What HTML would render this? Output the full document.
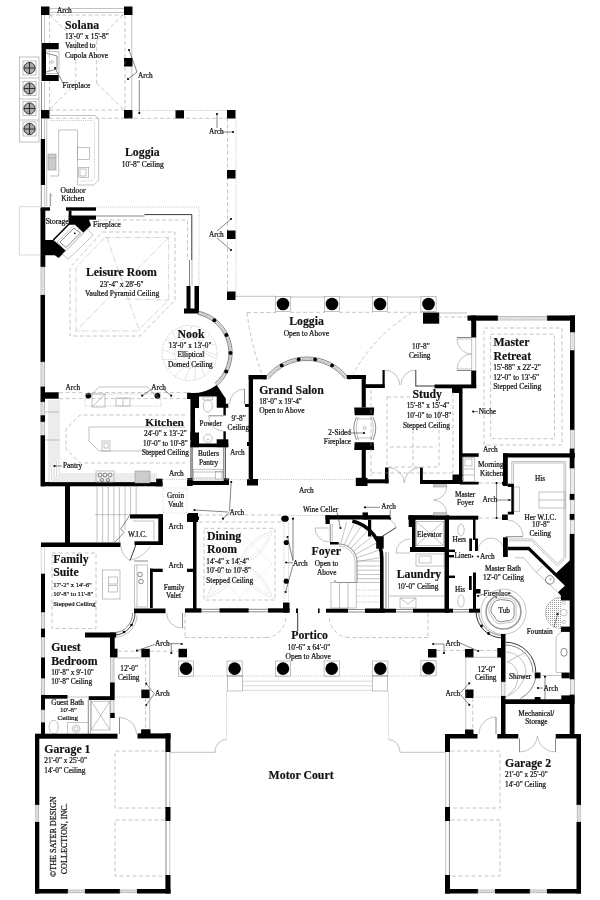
<!DOCTYPE html>
<html lang="en"><head><meta charset="utf-8"><title>Floor Plan</title>
<style>
html,body{margin:0;padding:0;background:#fff;}
body{width:600px;height:900px;overflow:hidden;}
svg{display:block;will-change:transform;opacity:.999;}
text{font-family:"Liberation Serif","DejaVu Serif",serif;fill:#111;}
.b{font-weight:bold;font-size:11.8px;stroke:#111;stroke-width:.15;}
.s{font-size:7.3px;fill:#111;stroke:#111;stroke-width:.22;}
.s75{font-size:7.5px;}
.s66{font-size:6.6px;}
.s70{font-size:7px;}
.c{font-size:8.15px;}
.a{font-size:7.3px;fill:#111;stroke:#111;stroke-width:.22;}
.w{fill:#000;stroke:none;}
.t{fill:none;stroke:#555;stroke-width:.7;}
.k{fill:none;stroke:#222;stroke-width:.9;}
.g{fill:none;stroke:#999;stroke-width:.6;}
.gf{fill:#ececec;stroke:#999;stroke-width:.6;}
.wf{fill:#fff;stroke:#999;stroke-width:.6;}
.d{fill:none;stroke:#999;stroke-width:.55;stroke-dasharray:4 2.5;}
.o{fill:none;stroke:#aaa;stroke-width:.7;stroke-dasharray:1 1.2;}
.h{fill:#ccc;stroke:#888;stroke-width:.5;}
.kk{fill:none;stroke:#000;stroke-width:1.6;}
.dd{fill:none;stroke:#aaa;stroke-width:.5;stroke-dasharray:6 1.5 1 1.5;}
.gl{fill:none;stroke:#aaa;stroke-width:.45;}
.oo{fill:none;stroke:#c4c4c4;stroke-width:.6;stroke-dasharray:1 1.4;}
.cw{fill:none;stroke:#000;stroke-width:3.6;}
.ft{fill:url(#dots);stroke:none;}
.rg{fill:none;stroke:#999;stroke-width:1.5;}
.hh{fill:#a8a8a8;stroke:none;}
.l{fill:none;stroke:#333;stroke-width:.6;}
</style></head><body>
<svg width="600" height="900" viewBox="0 0 600 900">
<defs><pattern id="dots" width="2" height="2" patternUnits="userSpaceOnUse"><rect width="2" height="2" fill="#fff"/><rect width="1" height="1" fill="#999"/></pattern></defs>
<rect x="0" y="0" width="600" height="900" fill="#fff"/>
<rect class="w" x="41" y="6.5" width="8.5" height="8.5"/>
<rect class="w" x="124" y="6.5" width="8.5" height="8.5"/>
<rect class="w" x="124" y="58" width="8.5" height="8.5"/>
<rect class="w" x="41" y="110" width="8.5" height="8.5"/>
<rect class="w" x="124" y="110" width="8.5" height="8.5"/>
<rect class="w" x="175.5" y="110" width="8.5" height="8.5"/>
<path class="g" d="M49.5 8.5 L124 8.5"/>
<path class="g" d="M49.5 12.5 L124 12.5"/>
<path class="t" d="M41.5 15 L41.5 43"/>
<path class="g" d="M44.5 15 L44.5 43"/>
<path class="t" d="M41.5 82 L41.5 110"/>
<path class="g" d="M44.5 82 L44.5 110"/>
<path class="d" d="M125 15 L125 110"/>
<path class="g" d="M131.8 15 L131.8 58"/>
<path class="g" d="M131.8 66.5 L131.8 110"/>
<path class="d" d="M49.5 15 L123 15"/>
<path class="d" d="M49.5 15 L49.5 110"/>
<path class="d" d="M49.5 110 L124 110"/>
<path class="d" d="M50 15 L75.8 40.8"/>
<path class="d" d="M123 15 L96.7 40.8"/>
<path class="d" d="M50 109 L75.8 83.3"/>
<path class="d" d="M123 109 L96.7 83.3"/>
<path class="d" d="M75.8 40.8 L75.8 83.3"/>
<path class="d" d="M96.7 40.8 L96.7 83.3"/>
<path class="w" d="M41.5 43 L58.7 43 L58.7 49.3 L46 49.3 L46 75 L58.7 75 L58.7 81 L41.5 81 Z"/>
<path class="g" d="M45.5 51.5 L59 51.5 L59 73.5 L45.5 73.5"/>
<path class="t" d="M46 53 L57 56 L57 69 L46 72"/>
<circle class="g" cx="52" cy="62" r="1.4"/>
<path class="l" d="M55 68 L63 83"/>
<circle class="w" cx="55" cy="68" r="1"/>
<text class="s s75" x="62.5" y="88.3">Fireplace</text>
<rect class="g" x="19.5" y="57" width="19.5" height="85"/>
<path class="g" d="M19.5 78 L39 78"/>
<path class="g" d="M19.5 99 L39 99"/>
<path class="g" d="M19.5 120 L39 120"/>
<rect class="g" x="23" y="61" width="13" height="14"/>
<circle class="hh" cx="29.5" cy="68" r="5.6"/>
<circle class="k" cx="29.5" cy="68" r="5.6"/>
<path class="k" d="M24 68 L35 68"/>
<path class="k" d="M29.5 62.5 L29.5 73.5"/>
<rect class="g" x="23" y="81.5" width="13" height="14"/>
<circle class="hh" cx="29.5" cy="88.5" r="5.6"/>
<circle class="k" cx="29.5" cy="88.5" r="5.6"/>
<path class="k" d="M24 88.5 L35 88.5"/>
<path class="k" d="M29.5 83 L29.5 94"/>
<rect class="g" x="23" y="101.5" width="13" height="14"/>
<circle class="hh" cx="29.5" cy="108.5" r="5.6"/>
<circle class="k" cx="29.5" cy="108.5" r="5.6"/>
<path class="k" d="M24 108.5 L35 108.5"/>
<path class="k" d="M29.5 103 L29.5 114"/>
<rect class="g" x="23" y="122" width="13" height="14"/>
<circle class="hh" cx="29.5" cy="129" r="5.6"/>
<circle class="k" cx="29.5" cy="129" r="5.6"/>
<path class="k" d="M24 129 L35 129"/>
<path class="k" d="M29.5 123.5 L29.5 134.5"/>
<text class="a" x="57" y="13">Arch</text>
<text class="b" x="65" y="29">Solana</text>
<text class="s s75" x="65" y="38.7">13'-0" x 15'-8"</text>
<text class="s s75" x="65" y="48.3">Vaulted to</text>
<text class="s s75" x="65" y="58.3">Cupola Above</text>
<circle class="w" cx="129" cy="50" r="1.1"/>
<circle class="w" cx="128" cy="79" r="1.1"/>
<path class="l" d="M129 50 L137 72 L128 79"/>
<text class="a" x="138" y="78">Arch</text>
<path class="l" d="M139.3 80 L139.3 113"/>
<circle class="w" cx="139.3" cy="113" r="1.1"/>
<path class="o" d="M132 110.5 L236 110.5"/>
<path class="d" d="M49.5 118.3 L227 118.3"/>
<rect class="w" x="227" y="110" width="8.5" height="8.5"/>
<path class="d" d="M227.5 118 L227.5 300"/>
<path class="o" d="M236 118 L236 297"/>
<rect class="w" x="227" y="170" width="8.5" height="8.5"/>
<rect class="w" x="227" y="230.5" width="8.5" height="8.5"/>
<rect class="w" x="227" y="291.5" width="8.5" height="8.5"/>
<circle class="w" cx="217" cy="114" r="1.1"/>
<path class="l" d="M217 114 L217 128"/>
<text class="a" x="209" y="134">Arch</text>
<path class="l" d="M223 132 L232 132"/>
<circle class="w" cx="233" cy="132" r="1.1"/>
<text class="b" x="125" y="156.3">Loggia</text>
<text class="s s75" x="121.7" y="167">10'-8" Ceiling</text>
<text class="a" x="209" y="237">Arch</text>
<circle class="w" cx="231" cy="219" r="1.1"/>
<circle class="w" cx="231" cy="250" r="1.1"/>
<path class="l" d="M231 219 L217 231"/>
<path class="l" d="M217 238 L231 250"/>
<path class="t" d="M41.5 118.5 L41.5 139"/>
<path class="g" d="M44.5 118.5 L44.5 139"/>
<rect class="w" x="40.8" y="139" width="4.2" height="46"/>
<path class="t" d="M41.3 185 L41.3 207"/>
<path class="g" d="M44.7 185 L44.7 207"/>
<path class="g" d="M46.7 118.5 L46.7 206"/>
<path class="g" d="M48.7 115.5 L95 115.5 L98.7 119 L98.7 180 L93.7 185 L77.5 185 L77.5 130"/>
<path class="g" d="M58.7 130 L77.5 130"/>
<path class="g" d="M58.7 130 L58.7 176"/>
<path class="g" d="M50 176 L58.7 176"/>
<path class="o" d="M50 120.5 L92 120.5 L94.5 123 L94.5 178 L92 181 L80 181"/>
<rect class="g" x="77.5" y="147.5" width="12" height="12"/>
<rect class="g" x="78.7" y="167.5" width="10" height="10"/>
<rect class="g" x="80" y="169" width="6" height="7"/>
<rect class="h" x="48" y="154" width="8" height="16"/>
<path class="g" d="M48 158 L56 158"/>
<text class="s s75" x="60.5" y="193">Outdoor</text>
<text class="s" x="61.2" y="201.2">Kitchen</text>
<path class="t" d="M50.3 206.5 L50.3 193.5"/>
<path class="g" d="M50.3 193.5 L53 196"/>
<rect class="w" x="40.8" y="207.3" width="9.2" height="3.4"/>
<rect class="w" x="66" y="207.3" width="30" height="3.4"/>
<rect class="w" x="68.7" y="215.5" width="27.3" height="4.2"/>
<rect class="w" x="68.7" y="210.7" width="2.8" height="9.3"/>
<rect class="w" x="40.5" y="208" width="4.8" height="59"/>
<text class="s s75" x="45.7" y="223.7">Storage</text>
<text class="s s75" x="93" y="226.7">Fireplace</text>
<path class="w" d="M68.7 219 L88.7 219 L91 225.3 L83.3 232.7 L74.7 224.7 L68.7 224.7 Z"/>
<path class="kk" d="M71.5 221.5 L53.3 240"/>
<path class="w" d="M45 240 L53.3 240 L66 250.7 L58.7 258 L54.7 255.3 L45 255.3 Z"/>
<path class="wf" d="M87.5 229 L93.3 235 L68 259.3 L62.5 254 Z"/>
<path class="wf" d="M74.7 224.7 L83.3 232.7 L66 250.7 L57 242 Z"/>
<path class="t" d="M74 228 L80.5 233 L66 247.5 L60 242 Z"/>
<circle class="w" cx="74.7" cy="233.3" r="0.9"/>
<path class="gl" d="M41 206.7 L19.3 206.7 L19.3 255 L41 255"/>
<path class="o" d="M97 207 L199 207 L199 286"/>
<path class="t" d="M96 216 L144.5 216"/>
<path class="k" d="M144.5 214.6 L191.8 214.6 L191.8 260"/>
<path class="t" d="M189.5 260 L189.5 286"/>
<path class="g" d="M192 260 L192 286"/>
<path class="d" d="M97 220 L187.5 220 L187.5 260"/>
<path class="d" d="M102.5 232 L175 232 L175 300 L140 336 L70 336 L70 267.5 L102.5 232"/>
<path class="dd" d="M105 237.5 L168.7 237.5 L168.7 300 L137.5 331 L76 331 L76 267.5 L105 237.5"/>
<path class="dd" d="M107 237.5 L139.5 331"/>
<path class="dd" d="M168.7 237.5 L76 331"/>
<path class="dd" d="M125 299 L169 300"/>
<text class="b" x="86" y="276.4">Leisure Room</text>
<text class="s s75" x="99.8" y="287">23'-4" x 28'-6"</text>
<text class="s s75" x="85" y="296.3">Vaulted Pyramid Ceiling</text>
<rect class="gf" x="41" y="267" width="3.7" height="28"/>
<path class="o" d="M42.8 267 L42.8 295"/>
<rect class="w" x="186.5" y="286" width="4" height="27"/>
<rect class="w" x="194.5" y="286" width="4.5" height="27"/>
<rect class="w" x="184" y="308.5" width="15" height="5"/>
<rect class="w" x="40.5" y="295" width="4.5" height="67"/>
<rect class="gf" x="41" y="362" width="3.7" height="24.7"/>
<path class="o" d="M42.8 362 L42.8 386.7"/>
<rect class="w" x="40.5" y="386.7" width="4.5" height="15.3"/>
<rect class="w" x="41" y="392.3" width="17.7" height="6.4"/>
<rect class="gf" x="41" y="402" width="3.7" height="13.3"/>
<rect class="w" x="40.5" y="415.3" width="4.5" height="6.7"/>
<rect class="gf" x="41" y="422" width="3.7" height="13.3"/>
<rect class="w" x="40.5" y="435.3" width="4.5" height="51"/>
<path class="o" d="M42.8 402 L42.8 415.3"/>
<path class="o" d="M42.8 422 L42.8 435.3"/>
<rect class="w" x="41" y="482" width="121.5" height="4.3"/>
<rect class="w" x="156" y="478.7" width="6.5" height="7.6"/>
<path class="gl" d="M49 400 L49 474"/>
<path class="gl" d="M51 400 L51 470.4"/>
<path class="gl" d="M53 400 L53 466.8"/>
<path class="gl" d="M55 400 L55 463.2"/>
<path class="gl" d="M57 400 L57 459.6"/>
<path class="gl" d="M59 400 L59 456"/>
<path class="g" d="M45 412 L59 412"/>
<path class="g" d="M45 440 L59 440"/>
<path class="gl" d="M59 456 L59 474 L157 474"/>
<path class="gl" d="M56.5 460.5 L56.5 476 L157 476"/>
<path class="gl" d="M54 465 L54 478 L157 478"/>
<path class="gl" d="M51.5 469.5 L51.5 480 L157 480"/>
<path class="gl" d="M49 474 L49 482 L157 482"/>
<circle class="w" cx="54.6" cy="466" r="1.1"/>
<path class="l" d="M54.6 466 L62 466"/>
<text class="s" x="63" y="468">Pantry</text>
<path class="d" d="M59 398.6 L187 398.6"/>
<path class="d" d="M59 392.6 L85 392.6"/>
<path class="d" d="M92 392.6 L187 392.6"/>
<circle class="w" cx="88.4" cy="395.6" r="2.9"/>
<circle class="w" cx="157.4" cy="395.7" r="2.9"/>
<text class="a" x="65.6" y="390.3">Arch</text>
<text class="a" x="151.2" y="389.7">Arch</text>
<circle class="w" cx="142.2" cy="395.7" r="1.1"/>
<circle class="w" cx="171.2" cy="395.7" r="1.1"/>
<path class="l" d="M142.2 395.7 L152 389"/>
<path class="l" d="M163 389 L171.2 395.7"/>
<path class="g" d="M85 394 L92 394 L99 387 L148 387 L154 394 L160 399"/>
<rect class="o" x="85" y="394" width="76" height="12"/>
<rect class="g" x="92" y="394" width="13" height="13"/>
<path class="g" d="M92 407 L105 394"/>
<rect class="g" x="116" y="398" width="14" height="8"/>
<path class="g" d="M123 398 L123 406"/>
<path class="d" d="M185 415 L80 415 L66 429 L66 449 L80 463 L185 463"/>
<path class="g" d="M185 427 L89 427 L89 441 L99 451 L185 451"/>
<rect class="g" x="102" y="441" width="8" height="10"/>
<rect class="g" x="104" y="443" width="4" height="5"/>
<rect class="g" x="96" y="471" width="18" height="11"/>
<circle class="t" cx="100" cy="475" r="2"/>
<circle class="t" cx="105" cy="475" r="2"/>
<circle class="t" cx="110" cy="475" r="2"/>
<circle class="t" cx="102" cy="480" r="1.6"/>
<circle class="t" cx="108" cy="480" r="1.6"/>
<rect class="h" x="135" y="471" width="15" height="12"/>
<text class="b" x="145.3" y="426" style="font-size:11.4px">Kitchen</text>
<text class="s" x="144" y="436">24'-0" x 13'-2"</text>
<text class="s" x="143" y="445.5">10'-0" to 10'-8"</text>
<text class="s" x="142" y="455">Stepped Ceiling</text>
<text class="a" x="169" y="476">Arch</text>
<path class="t" d="M198.2 311.1 A42.8 42.8 0 0 1 216.8 385.8"/>
<path class="t" d="M197.5 314.3 A39.599999999999994 39.599999999999994 0 0 1 214.8 383.3"/>
<path class="g" d="M198.0 312.2 A41.699999999999996 41.699999999999996 0 0 1 216.1 384.9"/>
<path class="g" d="M197.7 313.3 A40.599999999999994 40.599999999999994 0 0 1 215.4 384.1"/>
<circle class="w" cx="214.381" cy="320.314" r="2"/>
<circle class="w" cx="226.33" cy="334.939" r="2"/>
<circle class="w" cx="230.5" cy="353" r="2"/>
<circle class="w" cx="226.171" cy="371.383" r="2"/>
<circle class="o" cx="189.5" cy="353" r="27.5"/>
<circle class="o" cx="189.5" cy="353" r="15"/>
<path class="o" d="M204.3 353 L216.199 358.718"/>
<path class="o" d="M203.208 358.619 L212.099 368.378"/>
<path class="o" d="M200.09 363.42 L204.678 375.799"/>
<path class="o" d="M195.401 366.703 L195.018 379.899"/>
<path class="o" d="M189.823 367.991 L184.525 380.082"/>
<path class="o" d="M184.17 367.095 L174.727 376.321"/>
<path class="o" d="M179.263 364.147 L167.052 369.164"/>
<path class="o" d="M175.818 359.576 L162.617 359.653"/>
<path class="o" d="M174.337 354.046 L162.068 349.173"/>
<path class="o" d="M175.034 348.365 L165.484 339.25"/>
<path class="o" d="M177.809 343.358 L172.369 331.33"/>
<path class="o" d="M182.258 339.756 L181.72 326.565"/>
<path class="o" d="M187.732 338.082 L192.175 325.651"/>
<path class="o" d="M193.435 338.581 L202.21 328.719"/>
<path class="o" d="M198.535 341.18 L210.366 335.323"/>
<path class="o" d="M202.29 345.5 L215.454 344.502"/>
<path class="o" d="M204.154 350.912 L216.733 354.918"/>
<text class="b" x="177.6" y="337.6">Nook</text>
<text class="s" x="168.8" y="348">13'-0" x 13'-0"</text>
<text class="s" x="177.6" y="357.2">Elliptical</text>
<text class="s" x="167.9" y="367">Domed Ceiling</text>
<rect class="w" x="187.3" y="392.8" width="3.7" height="6.2"/>
<path class="w" d="M187.3 392.8 A41.5 41.5 0 0 0 216.7 384.9 L224 395.9 L225.8 398.5 L225.8 403.8 L228.3 403.8 L228.3 407.8 L216.7 407.8 L216.7 396.5 L199 396.5 L199 408 L190.4 408 L190.4 399 L187.3 399 Z"/>
<rect class="w" x="190.4" y="408" width="4.6" height="32"/>
<rect class="w" x="190.4" y="432.5" width="8.6" height="14.7"/>
<rect class="w" x="190.4" y="443.5" width="37.9" height="3.7"/>
<rect class="w" x="216.7" y="439.3" width="11.6" height="7.9"/>
<rect class="w" x="223.4" y="407" width="2.4" height="8.4"/>
<rect class="w" x="223.4" y="431.3" width="2.4" height="8.7"/>
<path class="t" d="M208.7 415.8 L223.4 415.8"/>
<path class="g" d="M208.7 415.8 A14.7 15 0 0 0 223.4 431"/>
<ellipse class="g" cx="207.8" cy="406" rx="4.6" ry="6.2"/>
<rect class="g" x="203" y="397" width="9.6" height="3"/>
<circle class="wf" cx="208" cy="438.5" r="4.3"/>
<circle class="g" cx="208" cy="439.5" r="0.8"/>
<text class="s" x="199.6" y="426.3">Powder</text>
<text class="s" x="231.6" y="421">9'-8"</text>
<text class="s" x="227.6" y="429.6">Ceiling</text>
<text class="s" x="198" y="456.3">Butlers</text>
<text class="s" x="199" y="464.6">Pantry</text>
<text class="a" x="230" y="455">Arch</text>
<path class="k" d="M191 447 L191 481"/>
<path class="t" d="M192.6 447 L192.6 481"/>
<path class="t" d="M223.6 447 L223.6 481"/>
<path class="k" d="M225.3 447 L225.3 481"/>
<rect class="g" x="193.4" y="469.2" width="29.6" height="11.8"/>
<path class="g" d="M193.4 472 L223 472"/>
<path class="g" d="M193.4 478 L215 478"/>
<rect class="g" x="215.5" y="471.5" width="6.5" height="7.5"/>
<rect class="w" x="187.3" y="481" width="41.6" height="4"/>
<rect class="w" x="187.3" y="478.4" width="5.1" height="7.6"/>
<rect class="w" x="224" y="478.4" width="4.9" height="6.6"/>
<rect class="w" x="248.7" y="375" width="4.3" height="107"/>
<rect class="w" x="248.7" y="375" width="17.8" height="4.3"/>
<rect class="w" x="247" y="479" width="11" height="6.5"/>
<rect class="w" x="245" y="404" width="5" height="3"/>
<rect class="w" x="247" y="442" width="3" height="4"/>
<path class="t" d="M244.5 389 L244.5 404"/>
<path class="g" d="M244.5 389 A15 15 0 0 0 229.5 404"/>
<path class="t" d="M266.1 376.7 A52.1 52.1 0 0 1 347.7 376.7"/>
<path class="t" d="M268.8 378.8 A48.7 48.7 0 0 1 345.0 378.8"/>
<path class="g" d="M267.1 377.4 A50.9 50.9 0 0 1 346.7 377.4"/>
<path class="g" d="M267.9 378.1 A49.800000000000004 49.800000000000004 0 0 1 345.9 378.1"/>
<circle class="w" cx="281.7" cy="365.452" r="1.9"/>
<circle class="w" cx="298.668" cy="359.377" r="1.9"/>
<circle class="w" cx="315.132" cy="359.377" r="1.9"/>
<circle class="w" cx="332.1" cy="365.452" r="1.9"/>
<path class="w" d="M266.5 375 L263 379.3 L266.5 379.3 Z"/>
<path class="w" d="M347.5 375 L351 379.3 L347.5 379.3 Z"/>
<text class="b" x="259.2" y="393.8">Grand Salon</text>
<text class="s" x="259.2" y="404.3">18'-0" x 19'-4"</text>
<text class="s s75" x="259.2" y="413.2">Open to Above</text>
<text class="s" x="351" y="434.5" text-anchor="end">2-Sided</text>
<text class="s" x="351" y="443.5" text-anchor="end">Fireplace</text>
<rect class="w" x="346.7" y="375" width="19.1" height="4"/>
<rect class="w" x="361.7" y="375" width="4.1" height="32.5"/>
<path class="w" d="M354.2 407.5 L374.2 407.5 L373.7 415.2 L354.7 415.2 Z"/>
<path class="w" d="M354.7 442.3 L373.7 442.3 L374.2 450 L354.2 450 Z"/>
<rect class="w" x="361.7" y="450" width="4.1" height="34"/>
<rect class="w" x="355.8" y="477.8" width="11.7" height="8.2"/>
<path class="t" d="M356.5 417 Q351 428 356.5 440"/>
<path class="t" d="M373 417 Q378.5 428 373 440"/>
<path class="g" d="M358.5 417 Q354 428 358.5 440"/>
<path class="g" d="M371 417 Q375.5 428 371 440"/>
<path class="g" d="M357 419 L372 419"/>
<path class="g" d="M357 438 L372 438"/>
<circle class="g" cx="364.7" cy="428" r="1.5"/>
<circle class="w" cx="364" cy="433" r="1.1"/>
<path class="l" d="M350 433 L364 433"/>
<rect class="w" x="365" y="384.2" width="19.5" height="3.8"/>
<rect class="w" x="382.5" y="370" width="2.2" height="18"/>
<path class="k" d="M415.8 370 L415.8 386.5"/>
<path class="k" d="M415.8 386 L435 386"/>
<path class="g" d="M384.7 370 A15 15 0 0 1 399.7 385"/>
<path class="g" d="M415.8 370 A15 15 0 0 0 400.8 385"/>
<rect class="w" x="434.5" y="384.5" width="41.7" height="3.8"/>
<rect class="w" x="452" y="387" width="10.5" height="6"/>
<rect class="w" x="459" y="393" width="3.5" height="83"/>
<rect class="w" x="452.5" y="474.5" width="10" height="9.5"/>
<rect class="w" x="362" y="479.3" width="26.5" height="4"/>
<rect class="w" x="385" y="467.5" width="3.5" height="15.8"/>
<rect class="w" x="420" y="467.5" width="2.8" height="15.8"/>
<rect class="w" x="420" y="480" width="42.5" height="4"/>
<path class="g" d="M388.5 467.5 A16 16 0 0 1 404.3 483"/>
<path class="g" d="M420 467.5 A16 16 0 0 0 404.3 483"/>
<path class="d" d="M371 390 L371 476"/>
<path class="d" d="M453 392 L453 473"/>
<path class="d" d="M371 473 L453 473"/>
<rect class="d" x="387" y="397" width="52" height="70"/>
<path class="d" d="M413 430 L413 470"/>
<path class="d" d="M390 447 L436 447"/>
<text class="b" x="412.5" y="397.5">Study</text>
<text class="s" x="406.7" y="408.3">15'-8" x 15'-4"</text>
<text class="s" x="406.7" y="418">10'-0" to 10'-8"</text>
<text class="s" x="403" y="427.5">Stepped Ceiling</text>
<rect class="g" x="275.4" y="296.4" width="15.2" height="15.2"/>
<circle class="w" cx="283" cy="304" r="6.3"/>
<rect class="g" x="324.4" y="296.4" width="15.2" height="15.2"/>
<circle class="w" cx="332" cy="304" r="6.3"/>
<rect class="g" x="372.4" y="296.4" width="15.2" height="15.2"/>
<circle class="w" cx="380" cy="304" r="6.3"/>
<rect class="g" x="420.9" y="296.4" width="15.2" height="15.2"/>
<circle class="w" cx="428.5" cy="304" r="6.3"/>
<path class="g" d="M236 296.3 L276 296.3"/>
<path class="g" d="M290 297 L325 297"/>
<path class="g" d="M339 297 L373 297"/>
<path class="g" d="M387 297 L421 297"/>
<path class="d" d="M290 312.3 L325 312.3"/>
<path class="d" d="M339 312.3 L373 312.3"/>
<path class="d" d="M387 312.3 L423 312.3"/>
<rect class="w" x="423" y="312.5" width="16.2" height="11.2"/>
<path class="g" d="M438 313 L467 313"/>
<path class="d" d="M438 317 L467 317"/>
<path class="d" d="M412 312.5 Q375 335 353 374"/>
<path class="d" d="M247 312.5 Q251 345 262 374"/>
<path class="d" d="M247 312.5 L276 312.5"/>
<text class="b" x="289.2" y="325.2">Loggia</text>
<text class="s s75" x="283.7" y="335.5">Open to Above</text>
<text class="s" x="412" y="349">10'-8"</text>
<text class="s" x="409" y="357.5">Ceiling</text>
<rect class="w" x="467.5" y="315.5" width="30.5" height="5.2"/>
<rect class="w" x="547" y="315.5" width="28" height="5.2"/>
<rect class="gf" x="498" y="316.3" width="49" height="3.7"/>
<path class="o" d="M498 318.1 L547 318.1"/>
<rect class="w" x="471.2" y="315.5" width="5" height="22"/>
<rect class="w" x="471.2" y="370.5" width="5" height="17.5"/>
<rect class="w" x="570" y="315.5" width="5" height="17"/>
<rect class="gf" x="570.7" y="332.5" width="3.8" height="17.8"/>
<path class="o" d="M572.6 332.5 L572.6 350.3"/>
<rect class="w" x="570" y="350.3" width="4.5" height="79.7"/>
<path class="t" d="M457 337.5 L471.5 337.5"/>
<path class="g" d="M457 339 L471.5 339"/>
<path class="t" d="M457 370.5 L471.5 370.5"/>
<path class="g" d="M457 369 L471.5 369"/>
<path class="g" d="M457 338.5 A14.5 15.5 0 0 0 471.5 354"/>
<path class="g" d="M457 369.5 A14.5 15.5 0 0 1 471.5 354"/>
<path class="g" d="M471.7 338 L471.7 370"/>
<path class="g" d="M475.7 338 L475.7 370"/>
<rect class="d" x="484" y="328" width="78" height="117"/>
<rect class="d" x="490.6" y="334.2" width="63.9" height="104.5"/>
<text class="b" x="493.4" y="346.2">Master</text>
<text class="b" x="493.4" y="359.6">Retreat</text>
<text class="s s75" x="493.2" y="370">15'-88" x 22'-2"</text>
<text class="s s75" x="493.2" y="379.5">12'-0" to 13'-6"</text>
<text class="s s75" x="493.2" y="388.8">Stepped Ceiling</text>
<circle class="w" cx="473.2" cy="411.6" r="1.1"/>
<path class="l" d="M473.2 411.6 L478 411.6"/>
<text class="s" x="478.7" y="413.8">Niche</text>
<rect class="w" x="65" y="486" width="5" height="57.5"/>
<rect class="w" x="41" y="542.5" width="79.5" height="4.5"/>
<path class="g" d="M97 487 L97 542"/>
<path class="g" d="M102.6 487 L102.6 542"/>
<path class="g" d="M108.2 487 L108.2 542"/>
<path class="g" d="M113.8 487 L113.8 542"/>
<path class="g" d="M119.4 487 L119.4 542"/>
<path class="g" d="M125 487 L125 530"/>
<path class="g" d="M130.6 487 L130.6 514"/>
<path class="g" d="M136.2 487 L136.2 514"/>
<path class="h" d="M95 514.7 L130 514.7"/>
<path class="t" d="M130 515 L120.7 529 L124 532.5 L115 542"/>
<rect class="w" x="130" y="514.3" width="33" height="4.2"/>
<rect class="w" x="158.3" y="514.3" width="4.7" height="30.7"/>
<rect class="w" x="134.5" y="541.3" width="28.5" height="3.7"/>
<path class="g" d="M133 521 L154 521 L154 540"/>
<text class="s" x="128" y="536.7">W.I.C.</text>
<path class="k" d="M136 544.5 L130 560.5"/>
<path class="g" d="M120.7 546 Q122 556 130 560.5"/>
<path class="g" d="M150 547 Q142 558 131 560"/>
<text class="s" x="167" y="498">Groin</text>
<text class="s" x="168" y="507">Vault</text>
<rect class="w" x="187.3" y="478.4" width="5.1" height="7.6"/>
<path class="w" d="M187 514 L196 514 L199 517 L199 519.5 L196 522 L187 522 Z"/>
<rect class="w" x="193" y="522" width="3.5" height="90"/>
<rect class="oo" x="163" y="488" width="24" height="25"/>
<path class="oo" d="M163 488 L187 513"/>
<path class="oo" d="M187 488 L163 513"/>
<text class="a" x="168.5" y="528.5">Arch</text>
<text class="a" x="168.5" y="567.7">Arch</text>
<rect class="w" x="150" y="568.7" width="12.7" height="3.3"/>
<rect class="w" x="187" y="568.7" width="9" height="3.3"/>
<rect class="w" x="150" y="568.7" width="2.8" height="39.3"/>
<rect class="w" x="134" y="608.5" width="31.5" height="4.7"/>
<rect class="w" x="185" y="608.3" width="16.5" height="4.3"/>
<text class="s" x="163.8" y="590">Family</text>
<text class="s" x="166" y="598">Valet</text>
<rect class="g" x="134.7" y="565" width="12.8" height="42"/>
<circle class="t" cx="140" cy="574.5" r="2.3"/>
<circle class="t" cx="141" cy="581.5" r="2.3"/>
<path class="g" d="M137 565 L137 607"/>
<path class="t" d="M134 561 L148 561"/>
<rect class="g" x="102.5" y="570" width="17.5" height="29"/>
<rect class="g" x="108.5" y="577" width="9" height="7"/>
<rect class="g" x="108.5" y="585.5" width="9" height="6.5"/>
<path class="gl" d="M41.3 547 L41.3 573.7"/>
<path class="gl" d="M44.5 547 L44.5 573.7"/>
<rect class="w" x="41" y="573.7" width="4" height="38.8"/>
<rect class="gf" x="41.3" y="612.5" width="3.4" height="16.2"/>
<rect class="w" x="41" y="628.7" width="4" height="8.8"/>
<rect class="gf" x="41.3" y="637.5" width="3.4" height="20"/>
<rect class="w" x="41" y="657.5" width="4" height="21.2"/>
<rect class="gf" x="41.3" y="678.7" width="3.4" height="16.3"/>
<rect class="w" x="41" y="695" width="4" height="15"/>
<rect class="gf" x="41.3" y="710" width="3.4" height="12.5"/>
<rect class="w" x="41" y="722.5" width="4" height="12.5"/>
<path class="o" d="M43 612.5 L43 628.7"/>
<path class="o" d="M43 637.5 L43 657.5"/>
<path class="o" d="M43 678.7 L43 695"/>
<path class="o" d="M43 710 L43 722.5"/>
<rect class="d" x="52" y="553" width="44" height="75.5"/>
<text class="b" x="53.2" y="563.3">Family</text>
<text class="b" x="53.2" y="576.3">Suite</text>
<text class="s s66" x="53.2" y="587.2">17'-2" x 14'-6"</text>
<text class="s s66" x="53.2" y="596">10'-8" to 11'-8"</text>
<text class="s s66" x="53.2" y="606.2">Stepped Ceiling</text>
<path class="k" d="M135 613 A21 22 0 0 1 115 635"/>
<path class="t" d="M132.5 613 A18.5 19.5 0 0 1 115 632.5"/>
<path class="g" d="M137 615 A22 22 0 0 1 117 637"/>
<circle class="w" cx="131.5" cy="625" r="1.3"/>
<circle class="w" cx="124" cy="632" r="1.3"/>
<rect class="w" x="85" y="632.5" width="31.2" height="5"/>
<rect class="w" x="110" y="632.5" width="4.7" height="25"/>
<rect class="w" x="110" y="648.7" width="7.5" height="8.8"/>
<rect class="gf" x="110.7" y="657.5" width="3.3" height="25"/>
<path class="o" d="M112.3 657.5 L112.3 682.5"/>
<rect class="w" x="110" y="682.5" width="4.7" height="17.5"/>
<rect class="gf" x="110.7" y="700" width="3.3" height="13"/>
<rect class="w" x="110" y="713" width="4.7" height="5"/>
<text class="b" x="51.2" y="651.3">Guest</text>
<text class="b" x="51.2" y="664.5">Bedroom</text>
<text class="s" x="51.2" y="675">10'-8" x 9'-10"</text>
<text class="s" x="51.2" y="684.2">10'-8" Ceiling</text>
<rect class="w" x="141.3" y="648.8" width="8.5" height="8.5"/>
<rect class="w" x="178.5" y="648.8" width="8.5" height="8.5"/>
<rect class="w" x="141.3" y="689.6" width="8.5" height="8.5"/>
<rect class="w" x="141.3" y="729.5" width="8.9" height="5.5"/>
<text class="a" x="155" y="645.8">Arch</text>
<circle class="w" cx="137" cy="650.7" r="1.1"/>
<circle class="w" cx="181.7" cy="644" r="1.1"/>
<circle class="w" cx="171.3" cy="653" r="1.1"/>
<path class="l" d="M137 650.7 L154.5 644.5"/>
<path class="l" d="M169.5 643.7 L181.7 643.7"/>
<path class="l" d="M171.3 643.7 L171.3 653"/>
<text class="s" x="120.3" y="671.2">12'-0"</text>
<text class="s" x="118" y="680">Ceiling</text>
<text class="a" x="155" y="696.2">Arch</text>
<circle class="w" cx="146.2" cy="683.7" r="1.1"/>
<circle class="w" cx="146.2" cy="705" r="1.1"/>
<path class="l" d="M146.2 683.7 L154.3 693.8 L146.2 705"/>
<path class="d" d="M117.5 651.2 L141.3 651.2"/>
<path class="d" d="M150 651.2 L178 651.2"/>
<path class="g" d="M117.5 658 L141.3 658"/>
<path class="d" d="M145.5 657.5 L145.5 689.5"/>
<path class="g" d="M149.7 657.5 L149.7 730"/>
<path class="d" d="M145.5 698 L145.5 729"/>
<path class="o" d="M114.7 697 L141.3 697"/>
<rect class="w" x="188" y="513" width="10" height="9"/>
<rect class="w" x="219.5" y="608.3" width="29.2" height="4.3"/>
<rect class="w" x="268" y="608.3" width="21.5" height="4.3"/>
<rect class="w" x="283" y="602.5" width="6.5" height="10.1"/>
<path class="t" d="M201.7 609.3 L220 609.3"/>
<path class="t" d="M201.7 611.8 L220 611.8"/>
<path class="t" d="M248.7 609.3 L268 609.3"/>
<path class="t" d="M248.7 611.8 L268 611.8"/>
<rect class="d" x="204" y="528.3" width="71" height="71.7"/>
<path class="d" d="M199 522 L283 522"/>
<path class="o" d="M239.7 564.2 Q233.7 540.2 207.2 530.9000000000001 Q215.7 558.2 239.7 564.2 Z"/>
<path class="oo" d="M235.7 560.2 Q229.7 543.2 211.2 534.9000000000001 Q218.7 554.2 235.7 560.2 Z"/>
<path class="o" d="M239.7 564.2 Q245.7 540.2 272.2 530.9000000000001 Q263.7 558.2 239.7 564.2 Z"/>
<path class="oo" d="M243.7 560.2 Q249.7 543.2 268.2 534.9000000000001 Q260.7 554.2 243.7 560.2 Z"/>
<path class="o" d="M239.7 564.2 Q233.7 588.2 207.2 597.5 Q215.7 570.2 239.7 564.2 Z"/>
<path class="oo" d="M235.7 568.2 Q229.7 585.2 211.2 593.5 Q218.7 574.2 235.7 568.2 Z"/>
<path class="o" d="M239.7 564.2 Q245.7 588.2 272.2 597.5 Q263.7 570.2 239.7 564.2 Z"/>
<path class="oo" d="M243.7 568.2 Q249.7 585.2 268.2 593.5 Q260.7 574.2 243.7 568.2 Z"/>
<path class="oo" d="M207.5 564 Q223 548 239.7 531"/>
<path class="oo" d="M272 564 Q256 548 239.7 531"/>
<path class="oo" d="M207.5 564 Q223 580 239.7 597.5"/>
<path class="oo" d="M272 564 Q256 580 239.7 597.5"/>
<text class="b" x="207" y="540.3">Dining</text>
<text class="b" x="207" y="553.2">Room</text>
<text class="s" x="206.3" y="563.7">14'-4" x 14'-4"</text>
<text class="s" x="206.3" y="573">10'-0" to 10'-8"</text>
<text class="s" x="206.3" y="582.5">Stepped Ceiling</text>
<path class="d" d="M199 515 L282 515"/>
<path class="o" d="M284 523 L284 603"/>
<path class="o" d="M288.5 523 L288.5 603"/>
<ellipse class="w" cx="285" cy="518.7" rx="3.8" ry="3.1"/>
<circle class="w" cx="286.3" cy="542.5" r="2.6"/>
<circle class="w" cx="286.3" cy="581.2" r="2.6"/>
<circle class="w" cx="293" cy="518.7" r="1.1"/>
<circle class="w" cx="287.5" cy="537" r="1.1"/>
<circle class="w" cx="286.2" cy="562.5" r="1.1"/>
<circle class="w" cx="285.6" cy="592" r="1.1"/>
<path class="l" d="M293 518.7 L293 560"/>
<path class="l" d="M287.5 537 L293 561"/>
<path class="l" d="M286.2 562.5 L293 563"/>
<path class="l" d="M285.6 592 L293 565"/>
<text class="a" x="293" y="566">Arch</text>
<text class="a" x="229.5" y="514.5">Arch</text>
<circle class="w" cx="231.2" cy="482" r="1.1"/>
<circle class="w" cx="223" cy="518.7" r="1.1"/>
<path class="l" d="M231.2 482 L229.5 511"/>
<path class="l" d="M229 512.5 L223 518.7"/>
<circle class="w" cx="194.5" cy="510" r="1.1"/>
<path class="l" d="M194.5 510 L228.5 512"/>
<path class="o" d="M163 479.5 L250 479.5"/>
<path class="o" d="M258 479.5 L357 479.5"/>
<path class="o" d="M289 515.5 L325 515.5"/>
<text class="a" x="299" y="493">Arch</text>
<rect class="w" x="325.5" y="515.2" width="64.5" height="4.3"/>
<rect class="w" x="325.5" y="515.2" width="4.3" height="8.8"/>
<rect class="w" x="362.5" y="512.4" width="5.5" height="7.1"/>
<rect class="w" x="368" y="519.5" width="3.2" height="17"/>
<path class="t" d="M330.2 524 L330.2 542"/>
<path class="g" d="M332.2 524 L332.2 542"/>
<rect class="w" x="330" y="542" width="8.7" height="2.5"/>
<text class="s" x="303" y="511.5">Wine Celler</text>
<circle class="w" cx="340.5" cy="528" r="1.1"/>
<path class="l" d="M337 512.5 L340.5 528"/>
<path class="cw" d="M352.4 521 A38.3 38.3 0 0 1 381.8 558.3 L381.8 609"/>
<rect class="w" x="376.2" y="536.2" width="7.5" height="12.5"/>
<path class="t" d="M339 544 A18 18 0 0 1 357 562 L357 582.5 L337 582.5 A2.5 2.5 0 0 1 334.5 580"/>
<path class="g" d="M339 546 A16 16 0 0 1 355 562 L355 582"/>
<path class="g" d="M340.569 544.068 L346.681 521.939"/>
<path class="g" d="M344.263 544.787 L354.172 523.395"/>
<path class="g" d="M347.727 546.257 L361.196 526.376"/>
<path class="g" d="M350.809 548.415 L367.446 530.753"/>
<path class="g" d="M353.375 551.167 L372.65 536.334"/>
<path class="g" d="M355.314 554.393 L376.58 542.874"/>
<path class="g" d="M356.539 557.951 L379.065 550.089"/>
<path class="g" d="M356.997 561.686 L379.994 557.663"/>
<path class="g" d="M357 561 L380 561"/>
<path class="g" d="M357 566 L380 566"/>
<path class="g" d="M357 570.2 L380 570.2"/>
<path class="g" d="M357 574.5 L380 574.5"/>
<path class="g" d="M357 578.7 L380 578.7"/>
<path class="g" d="M357 582.5 L380 582.5"/>
<rect class="g" x="331" y="582.5" width="25.2" height="25.5"/>
<path class="g" d="M339.5 582.5 L339.5 608"/>
<path class="g" d="M348 582.5 L348 608"/>
<path class="o" d="M357 590 L381 590"/>
<path class="o" d="M357 596 L381 596"/>
<path class="o" d="M357 602 L381 602"/>
<path class="g" d="M315 528 A14 14 0 0 0 329 542"/>
<path class="g" d="M315 528 L329 528"/>
<text class="b" x="311.5" y="555.2">Foyer</text>
<text class="s" x="314.8" y="566.3">Open to</text>
<text class="s" x="317" y="575">Above</text>
<path class="k" d="M382 536.5 L396.2 527.5"/>
<path class="g" d="M396.2 527.5 A16 16 0 0 0 390 519.5"/>
<text class="a" x="381.2" y="509.2">Arch</text>
<circle class="w" cx="365" cy="507.3" r="1.1"/>
<path class="l" d="M365 507.3 L380 507.3"/>
<path class="l" d="M390.2 510 L390.2 518.7"/>
<circle class="w" cx="390.2" cy="518.7" r="1.1"/>
<rect class="w" x="326" y="608.7" width="22" height="4"/>
<rect class="w" x="365" y="608.7" width="20" height="4"/>
<path class="t" d="M348 609.5 L365 609.5"/>
<path class="t" d="M348 612 L365 612"/>
<rect class="w" x="296" y="608.5" width="2" height="4.5"/>
<rect class="w" x="318" y="608.5" width="1.6" height="4.5"/>
<path class="k" d="M297.7 613 L297.7 631"/>
<rect class="w" x="408.7" y="515.2" width="40.3" height="4.3"/>
<rect class="w" x="408.7" y="515.2" width="3.8" height="11.8"/>
<rect class="w" x="444.5" y="515.2" width="4.5" height="97.5"/>
<rect class="w" x="410" y="547" width="37" height="5"/>
<rect class="g" x="416.2" y="521.5" width="27.3" height="24"/>
<path class="g" d="M416.2 521.5 L443.5 545.5"/>
<path class="g" d="M443.5 521.5 L416.2 545.5"/>
<text class="s" x="417" y="536.8">Elevator</text>
<path class="t" d="M386 552 L386 608"/>
<path class="g" d="M388.5 552 L388.5 608"/>
<rect class="w" x="365" y="608.7" width="31" height="4"/>
<rect class="w" x="413" y="608.7" width="40" height="4"/>
<path class="t" d="M396 609.5 L413 609.5"/>
<path class="t" d="M396 612 L413 612"/>
<path class="t" d="M453 609.5 L469 609.5"/>
<path class="t" d="M453 612 L469 612"/>
<rect class="g" x="416" y="554" width="28" height="12"/>
<rect class="g" x="419" y="556" width="12" height="7"/>
<path class="g" d="M396 553 A14 14 0 0 1 410 539"/>
<path class="g" d="M396 553 L410 553"/>
<rect class="g" x="400" y="598" width="16" height="10"/>
<path class="g" d="M400 598 L408 604 L416 598"/>
<path class="g" d="M389 596 L444 596"/>
<text class="b" x="396.7" y="578.2">Laundry</text>
<text class="s" x="397.4" y="589">10'-0" Ceiling</text>
<rect class="w" x="408.3" y="515.7" width="70" height="4"/>
<rect class="w" x="412" y="519" width="3.5" height="33"/>
<text class="s" x="455" y="497">Master</text>
<text class="s" x="456.9" y="505.2">Foyer</text>
<rect class="h" x="433.5" y="484.8" width="13.3" height="2.2"/>
<rect class="h" x="433.5" y="512.8" width="13.3" height="2.4"/>
<path class="g" d="M446.8 486.5 A13.3 13.3 0 0 1 433.5 499.8"/>
<path class="g" d="M446.8 513.5 A13.3 13.3 0 0 0 433.5 500.2"/>
<rect class="w" x="460" y="453.3" width="18.7" height="3.5"/>
<rect class="w" x="460" y="481.8" width="18.7" height="2.7"/>
<rect class="g" x="463.5" y="457.5" width="11" height="23.8"/>
<rect class="g" x="465" y="459" width="7" height="7"/>
<path class="g" d="M463.5 469 L474.5 469"/>
<path class="g" d="M463.5 475 L474.5 475"/>
<text class="a" x="483" y="452.3">Arch</text>
<text class="s" x="478" y="467">Morning</text>
<text class="s" x="480" y="475.5">Kitchen</text>
<path class="d" d="M478.7 483 L503 483"/>
<path class="d" d="M478.7 518 L503 518"/>
<path class="l" d="M496.6 483 L496.6 518"/>
<circle class="w" cx="496.6" cy="483" r="1.1"/>
<circle class="w" cx="496.6" cy="518" r="1.1"/>
<text class="a" x="482.6" y="502.3">Arch</text>
<path class="l" d="M496.6 500 L511 500"/>
<path class="w" d="M511 500 L508.5 498.8 L508.5 501.2 Z"/>
<rect class="w" x="503" y="453.3" width="72" height="4.2"/>
<rect class="w" x="503" y="453.3" width="4.8" height="32.7"/>
<rect class="w" x="507.8" y="483.7" width="6.2" height="3.3"/>
<rect class="w" x="511.3" y="486" width="2.7" height="28"/>
<rect class="w" x="507.8" y="511.7" width="6.2" height="2.8"/>
<rect class="w" x="502" y="514.5" width="5.8" height="5.5"/>
<rect class="w" x="502" y="481.8" width="3.5" height="3"/>
<path class="g" d="M511.8 483 L511.8 461.5 L565.7 461.5 L565.7 557.8 L557.4 566 L531.7 540.8 L509 540.8"/>
<path class="g" d="M513.5 483 L513.5 463 L564 463 L564 557 L557.4 563.5 L532.3 539 L509 539"/>
<rect class="g" x="539" y="492" width="26" height="16"/>
<path class="g" d="M539 500 L565 500"/>
<rect class="g" x="514" y="487" width="5.5" height="24.7"/>
<text class="s" x="535" y="481">His</text>
<text class="s" x="524.6" y="519.5">Her W.I.C.</text>
<text class="s" x="532" y="527">10'-8"</text>
<text class="s" x="529.5" y="535.5">Ceiling</text>
<path class="g" d="M507.8 520 A16 16 0 0 1 523 536"/>
<path class="t" d="M505.5 536.7 L523 536.7"/>
<rect class="gf" x="570.7" y="430" width="3.8" height="18.7"/>
<path class="o" d="M572.6 430 L572.6 448.7"/>
<rect class="w" x="569.7" y="448.7" width="4.8" height="19.8"/>
<rect class="gf" x="570.5" y="468.5" width="4" height="25.5"/>
<rect class="w" x="569.7" y="494" width="4.8" height="6"/>
<rect class="gf" x="570.5" y="500" width="4" height="14"/>
<rect class="w" x="569.7" y="514" width="4.8" height="6"/>
<rect class="gf" x="570.5" y="520" width="4" height="14"/>
<rect class="w" x="569.7" y="534" width="4.8" height="145.5"/>
<rect class="gf" x="570.5" y="679.5" width="4" height="15.2"/>
<rect class="w" x="569.7" y="694.7" width="4.8" height="42.3"/>
<rect class="w" x="449" y="549.6" width="6" height="2.4"/>
<rect class="w" x="469.3" y="538.5" width="2.7" height="12.5"/>
<rect class="w" x="475" y="538.5" width="3" height="12.5"/>
<rect class="w" x="473" y="519" width="2.5" height="21"/>
<rect class="w" x="469" y="576" width="2.7" height="14"/>
<rect class="w" x="473" y="572.5" width="3" height="36.5"/>
<rect class="w" x="469" y="608.7" width="11" height="4"/>
<rect class="w" x="476" y="589" width="4.5" height="4.5"/>
<rect class="w" x="449" y="555" width="5" height="2.4"/>
<rect class="w" x="449" y="575.6" width="6" height="2.4"/>
<text class="s" x="452.4" y="542.4">Hers</text>
<text class="s" x="454.4" y="558.4">Linen</text>
<text class="a" x="480" y="558.6">Arch</text>
<text class="s" x="455" y="591.6">His</text>
<circle class="w" cx="472.5" cy="556.5" r="0.9"/>
<circle class="w" cx="478" cy="556.5" r="0.9"/>
<ellipse class="g" cx="461" cy="530" rx="3.2" ry="6"/>
<ellipse class="g" cx="461" cy="601" rx="3.2" ry="6"/>
<path class="g" d="M478 551 A13 13 0 0 1 491 538"/>
<path class="g" d="M504 551 A13 13 0 0 0 491 538"/>
<rect class="w" x="503" y="537.3" width="4.8" height="19.7"/>
<path class="w" d="M507.8 546.7 L529.3 546.7 L556.2 572.9 L570.2 560.1 L570.2 600.4 L560.9 600.4 L560.9 595.7 L557.9 592.2 L564.9 585.8 L528.2 550.2 L507.8 550.2 Z"/>
<path class="g" d="M536.3 572.4 L542.8 565.9"/>
<path class="g" d="M536.3 572.4 L557.9 592.2"/>
<path class="g" d="M515 557.8 L523.5 557.8 L536.3 572.4"/>
<circle class="t" cx="549.8" cy="579.9" r="4.3"/>
<circle class="g" cx="550.5" cy="579.2" r="1"/>
<text class="s" x="485" y="571.2">Master Bath</text>
<text class="s" x="483" y="580">12'-0" Ceiling</text>
<text class="s" x="483.6" y="595.8">Fireplace</text>
<circle class="w" cx="478" cy="596" r="1.1"/>
<path class="l" d="M478 596 L484 594"/>
<circle class="g" cx="503.5" cy="611.7" r="22.6"/>
<circle class="rg" cx="503.5" cy="611.7" r="17.4"/>
<path class="t" d="M492 606 Q495 598 505 600 Q516 600 514 610 Q516 622 505 621 Q497 624 494 616 Q489 612 492 606 Z"/>
<path class="g" d="M490 605.5 Q493.5 596 505 598 Q518.5 598 516 610 Q518.5 624 505 623 Q496 626.5 492 617 Q486.5 612 490 605.5 Z"/>
<text class="s" x="498.5" y="613.2">Tub</text>
<path class="k" d="M476 612 A27 27 0 0 0 502 638"/>
<path class="t" d="M478.5 612 A24.5 24.5 0 0 0 502 635.5"/>
<circle class="w" cx="481.5" cy="626" r="1.4"/>
<circle class="w" cx="488.5" cy="633.5" r="1.4"/>
<rect class="w" x="501" y="634" width="4.5" height="48"/>
<path class="t" d="M560.9 597.4 A15.3 15.5 0 0 0 560.9 628.4"/>
<path class="ft" d="M560.9 597.4 A15.3 15.5 0 0 0 560.9 628.4 Z"/>
<circle class="wf" cx="563.8" cy="612.6" r="3.3"/>
<circle class="wf" cx="563.8" cy="602.8" r="1.6"/>
<circle class="wf" cx="563.8" cy="622" r="1.6"/>
<text class="s" x="526.8" y="634.2">Fountain</text>
<circle class="w" cx="557.6" cy="614.1" r="1.1"/>
<path class="l" d="M553.9 627.2 L557.6 614.1"/>
<rect class="w" x="560.9" y="626.6" width="9.3" height="5.3"/>
<rect class="w" x="561.5" y="672.5" width="8.2" height="5.8"/>
<path class="g" d="M560.9 631.9 L556.1 637 L556.1 672.5 L570 672.5"/>
<ellipse class="t" cx="564" cy="652.3" rx="3.1" ry="4"/>
<path class="k" d="M505.5 642.2 A30.3 30.3 0 0 1 535.8 672.5"/>
<path class="t" d="M505.5 645 A27.5 27.5 0 0 1 533 672.5"/>
<path class="t" d="M535.8 678 A30.3 30.3 0 0 1 520.5 698.5"/>
<path class="g" d="M505.5 652 A20.5 20.5 0 0 1 526 672.5"/>
<path class="g" d="M507 662 Q517 664 518 676 Q518 688 508 695"/>
<path class="g" d="M526 672.5 Q522 690 506 697"/>
<path class="g" d="M507 662 L526 652"/>
<rect class="w" x="534.7" y="672.5" width="5.8" height="5.8"/>
<text class="s" x="509" y="679.3">Shower</text>
<text class="a" x="543.5" y="691">Arch</text>
<circle class="w" cx="538" cy="688" r="1.1"/>
<path class="l" d="M538 688 L543 688"/>
<circle class="w" cx="545" cy="676.7" r="1.1"/>
<path class="l" d="M545 676.7 L545 700"/>
<path class="g" d="M540.5 675.5 L561.5 675.5"/>
<rect class="gf" x="501.3" y="682" width="3.7" height="14"/>
<rect class="w" x="501" y="696" width="4.5" height="41"/>
<rect class="w" x="501" y="699.3" width="73.5" height="4.7"/>
<rect class="w" x="534.7" y="697" width="5.8" height="3"/>
<rect class="w" x="561.3" y="695.4" width="13.2" height="4.6"/>
<text class="s" x="518.3" y="716">Mechanical/</text>
<text class="s" x="525.3" y="724">Storage</text>
<rect class="w" x="428" y="649" width="8.5" height="8.5"/>
<rect class="w" x="465" y="649" width="8.5" height="8.5"/>
<rect class="w" x="497.3" y="648" width="5.7" height="9.5"/>
<rect class="w" x="465" y="689.5" width="8.5" height="8.5"/>
<rect class="w" x="465" y="729.7" width="8.3" height="7.3"/>
<rect class="g" x="420.9" y="660.7" width="15.2" height="15.2"/>
<circle class="w" cx="428.5" cy="668.3" r="6.3"/>
<text class="a" x="445.5" y="646">Arch</text>
<circle class="w" cx="433.2" cy="644" r="1.1"/>
<path class="l" d="M433.2 644 L444 644 L444 653"/>
<circle class="w" cx="444" cy="653" r="1.1"/>
<path class="l" d="M460 643 L478.2 651"/>
<circle class="w" cx="478.2" cy="651" r="1.1"/>
<text class="s" x="477.5" y="671.7">12'-0"</text>
<text class="s" x="475" y="679.6">Ceiling</text>
<text class="a" x="445.5" y="696.2">Arch</text>
<circle class="w" cx="469.3" cy="683.3" r="1.1"/>
<circle class="w" cx="469.3" cy="704.8" r="1.1"/>
<path class="l" d="M469.3 683.3 L460.5 692.5"/>
<path class="l" d="M460.5 694.5 L469.3 704.8"/>
<path class="d" d="M436.5 650.5 L465 650.5"/>
<path class="d" d="M473.5 650.5 L497.5 650.5"/>
<path class="g" d="M465 657.3 L497.5 657.3"/>
<path class="g" d="M465.8 657.5 L465.8 730"/>
<path class="d" d="M472.8 698 L472.8 729.7"/>
<path class="o" d="M473 697 L501 697"/>
<path class="t" d="M496 717 L496 734"/>
<path class="g" d="M496 717 A17 17 0 0 0 479 734"/>
<rect class="g" x="178.4" y="661" width="15.2" height="15.2"/>
<circle class="w" cx="186" cy="668.6" r="6.3"/>
<rect class="g" x="227" y="661" width="15.2" height="15.2"/>
<circle class="w" cx="234.6" cy="668.6" r="6.3"/>
<rect class="g" x="275.4" y="661" width="15.2" height="15.2"/>
<circle class="w" cx="283" cy="668.6" r="6.3"/>
<rect class="g" x="324.1" y="661" width="15.2" height="15.2"/>
<circle class="w" cx="331.7" cy="668.6" r="6.3"/>
<rect class="g" x="372.7" y="661" width="15.2" height="15.2"/>
<circle class="w" cx="380.3" cy="668.6" r="6.3"/>
<path class="o" d="M188 676 L428 676"/>
<path class="gl" d="M242.5 681.2 L372.5 681.2"/>
<path class="gl" d="M242.5 685.8 L372.5 685.8"/>
<path class="gl" d="M242.5 690.3 L372.5 690.3"/>
<rect class="g" x="227.5" y="675.5" width="15" height="15.5"/>
<rect class="g" x="372.5" y="675.5" width="15" height="15.5"/>
<path class="o" d="M226.5 691 L226.5 739.5"/>
<path class="g" d="M226.5 739.5 A11.5 12.5 0 0 0 215 752.3"/>
<path class="g" d="M215.2 752.3 L170 752.3"/>
<path class="o" d="M388.5 691 L388.5 739.5"/>
<path class="g" d="M388.5 739.5 A11.5 12.5 0 0 1 400 752.3"/>
<path class="g" d="M399.8 752.3 L445 752.3"/>
<path class="d" d="M185 613 L185 637"/>
<path class="d" d="M185 637.5 L266 637.5"/>
<path class="d" d="M266 637.5 A20 22 0 0 0 286 615.5"/>
<path class="d" d="M428 613 L428 637"/>
<path class="d" d="M428 637.5 L349 637.5"/>
<path class="d" d="M349 637.5 A20 22 0 0 1 329 615.5"/>
<text class="b" x="291.2" y="638.8">Portico</text>
<text class="s" x="287.5" y="649.8">10'-6" x 64'-0"</text>
<text class="s s75" x="285.5" y="658.7">Open to Above</text>
<path class="g" d="M166.7 613 A15 15 0 0 0 181.7 628"/>
<path class="t" d="M182.5 613 L182.5 628"/>
<rect class="w" x="41" y="695" width="26.5" height="3.7"/>
<rect class="w" x="88.7" y="696.2" width="25" height="3.8"/>
<path class="h" d="M67.5 697 L88.7 697"/>
<text class="s" x="51.2" y="704.5">Guest Bath</text>
<text class="s s70" x="60" y="712">10'-8"</text>
<text class="s s70" x="57.5" y="720">Ceiling</text>
<rect class="g" x="91.2" y="701.2" width="18.8" height="28.8"/>
<path class="g" d="M91.2 701.2 L110 730"/>
<path class="g" d="M110 701.2 L91.2 730"/>
<path class="t" d="M88.3 700 L88.3 734"/>
<path class="g" d="M90.5 700 L90.5 734"/>
<ellipse class="g" cx="53.7" cy="727" rx="4.6" ry="6.8"/>
<circle class="g" cx="76.2" cy="728.7" r="3.8"/>
<circle class="g" cx="76.2" cy="728.7" r="2"/>
<path class="g" d="M67.5 734 L67.5 722.5 L88 722.5"/>
<path class="t" d="M119.5 717.5 L119.5 734"/>
<path class="g" d="M119.5 717.5 A17 17 0 0 1 136.5 734"/>
<rect class="w" x="35" y="733.7" width="82.5" height="5"/>
<rect class="w" x="35" y="734" width="4.3" height="71"/>
<rect class="gf" x="35.8" y="805" width="2.7" height="17"/>
<path class="o" d="M37.2 805 L37.2 822"/>
<rect class="w" x="35" y="822" width="4.3" height="71.5"/>
<rect class="w" x="35" y="889" width="33" height="4.5"/>
<rect class="gf" x="68" y="890" width="17" height="2.8"/>
<path class="o" d="M68 891.4 L85 891.4"/>
<rect class="w" x="85" y="889" width="35" height="4.5"/>
<rect class="gf" x="120" y="890" width="17" height="2.8"/>
<path class="o" d="M120 891.4 L137 891.4"/>
<rect class="w" x="137" y="889" width="33.5" height="4.5"/>
<rect class="w" x="137.5" y="733.4" width="33" height="5.1"/>
<rect class="w" x="141.4" y="729.5" width="9" height="4.5"/>
<rect class="w" x="165.4" y="733.4" width="5.1" height="18.6"/>
<path class="t" d="M166 752 L166 807"/>
<path class="g" d="M169.8 752 L169.8 807"/>
<rect class="w" x="165.4" y="807" width="5.1" height="14"/>
<path class="t" d="M166 821 L166 875"/>
<path class="g" d="M169.8 821 L169.8 875"/>
<rect class="w" x="165.4" y="875" width="5.1" height="18.5"/>
<path class="d" d="M165 751 L115 751 L115 808 L165 808"/>
<path class="d" d="M165 820 L115 820 L115 876 L165 876"/>
<text class="b" x="44.3" y="752.8">Garage 1</text>
<text class="s" x="44.3" y="763.3">21'-0" x 25'-0"</text>
<text class="s" x="44.3" y="772.7">14'-0" Ceiling</text>
<text class="s c" transform="translate(55.8 877) rotate(-90)">©THE SATER DESIGN</text>
<text class="s c" transform="translate(66.5 874.3) rotate(-90)">COLLECTION, INC.</text>
<rect class="w" x="445" y="734" width="32.5" height="4.5"/>
<rect class="w" x="445" y="734" width="5" height="18"/>
<rect class="w" x="465" y="729.7" width="8.3" height="4.3"/>
<rect class="w" x="497.3" y="734" width="21" height="4.5"/>
<rect class="w" x="555.7" y="734" width="25.3" height="4.5"/>
<rect class="w" x="576.5" y="734" width="4.5" height="71"/>
<rect class="gf" x="577.2" y="805" width="3" height="17"/>
<path class="o" d="M578.7 805 L578.7 822"/>
<rect class="w" x="576.5" y="822" width="4.5" height="71.5"/>
<path class="g" d="M445.8 752 L445.8 807"/>
<path class="t" d="M449.4 752 L449.4 807"/>
<rect class="w" x="445" y="807" width="5" height="14"/>
<path class="g" d="M445.8 821 L445.8 875"/>
<path class="t" d="M449.4 821 L449.4 875"/>
<rect class="w" x="445" y="875" width="5" height="18.5"/>
<rect class="w" x="445" y="889" width="33" height="4.5"/>
<rect class="gf" x="478" y="890" width="17" height="2.8"/>
<path class="o" d="M478 891.4 L495 891.4"/>
<rect class="w" x="495" y="889" width="35" height="4.5"/>
<rect class="gf" x="530" y="890" width="17" height="2.8"/>
<path class="o" d="M530 891.4 L547 891.4"/>
<rect class="w" x="547" y="889" width="34" height="4.5"/>
<path class="d" d="M450.5 751 L500 751 L500 808 L450.5 808"/>
<path class="d" d="M450.5 820 L500 820 L500 876 L450.5 876"/>
<text class="b" x="505" y="767">Garage 2</text>
<text class="s" x="505" y="777">21'-0" x 25'-0"</text>
<text class="s" x="505" y="786.5">14'-0" Ceiling</text>
<path class="t" d="M519.5 738.5 L519.5 752"/>
<path class="t" d="M555.5 738.5 L555.5 752"/>
<path class="g" d="M519.5 752 A18 18 0 0 0 537.5 736"/>
<path class="g" d="M555.5 752 A18 18 0 0 1 537.5 736"/>
<text class="b" x="268.6" y="779">Motor Court</text>
</svg>
</body></html>
